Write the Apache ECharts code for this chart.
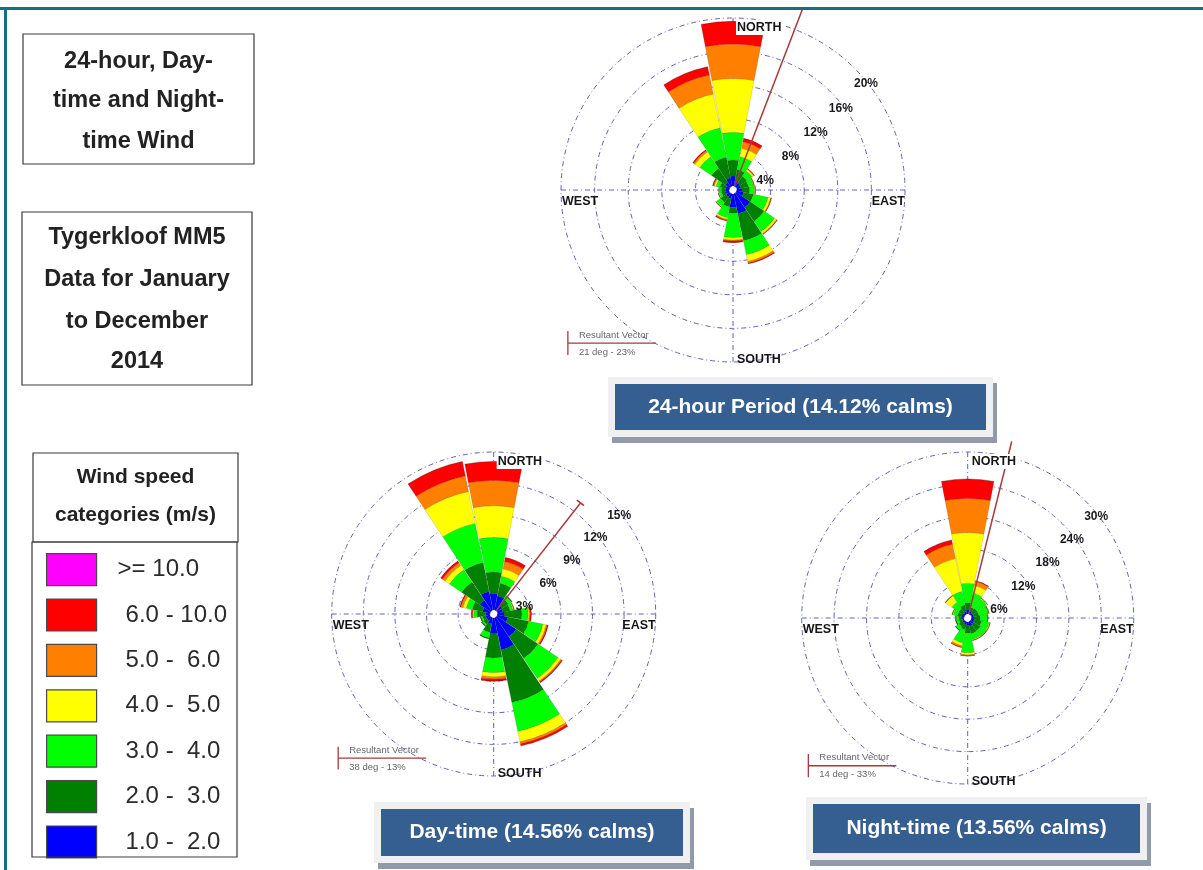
<!DOCTYPE html>
<html>
<head>
<meta charset="utf-8">
<script src="https://cdn.jsdelivr.net/npm/echarts@6/dist/echarts.min.js"></script>
<style>
  html, body { margin: 0; padding: 0; background: #ffffff; }
  #chart { width: 1203px; height: 870px; }
</style>
</head>
<body>
<div id="chart"></div>
<script>
// Wind direction sectors, clockwise from north
const directions = ['N','NNE','NE','ENE','E','ESE','SE','SSE','S','SSW','SW','WSW','W','WNW','NW','NNW'];

// Wind speed classes (m/s), inner to outer
const speedClasses = ['1.0 -  2.0','2.0 -  3.0','3.0 -  4.0','4.0 -  5.0','5.0 -  6.0','6.0 - 10.0','>= 10.0'];
const speedColors  = ['#0000ff','#008000','#00ff00','#ffff00','#ff8000','#ff0000','#ff00ff'];

// 24-hour period: frequency (%) per direction for each speed class
const all1to2  = [1.2,0.6,0.5,0.5,0.6,0.8,2.0,2.4,1.6,0.6,0.5,0.4,0.4,0.4,0.6,1.0];
const all2to3  = [1.9,1.4,1.0,0.9,0.9,1.2,2.0,3.3,0.7,1.0,0.8,0.5,0.5,0.7,2.0,2.5];
const all3to4  = [3.3,1.6,0.8,0.6,0.6,1.8,1.5,1.7,2.9,1.3,0.6,0.3,0.2,0.5,1.7,3.6];
const all4to5  = [6.4,1.0,0.2,0.1,0.1,0.3,0.3,0.8,0.3,0.2,0.1,0.1,0.1,0.2,0.7,4.1];
const all5to6  = [4.1,0.8,0.1,0,0,0.1,0.1,0.2,0.1,0.1,0,0,0,0.1,0.2,2.3];
const all6to10 = [2.7,0.4,0,0,0,0,0,0.1,0.2,0.1,0,0,0,0.1,0.1,1.0];
const all10up  = [0,0,0,0,0,0,0,0,0,0,0,0,0,0,0,0];

// Day-time
const day1to2  = [1.6,1.4,0.6,0.5,0.6,1.0,2.2,3.1,1.5,0.6,0.4,0.4,0.4,0.7,1.2,1.8];
const day2to3  = [2.0,1.2,0.7,0.7,1.7,2.0,2.5,5.1,2.3,0.8,0.4,0.3,0.8,1.0,2.1,2.8];
const day3to4  = [3.3,0.7,0.4,0.3,0.6,1.4,2.3,2.8,1.4,0.6,0.2,0.2,0.3,0.6,1.4,3.8];
const day4to5  = [3.0,0.7,0,0.1,0.1,0.3,0.3,1.0,0.4,0,0,0,0.1,0.3,0.5,3.1];
const day5to6  = [2.4,0.7,0,0,0.1,0.1,0.1,0.2,0.2,0,0,0,0.05,0.2,0.3,1.5];
const day6to10 = [1.8,0.4,0,0,0.1,0.1,0.1,0.2,0.2,0,0,0,0.1,0.1,0.2,1.4];
const day10up  = [0,0,0,0,0,0,0,0,0,0,0,0,0,0,0,0];

// Night-time
const night1to2  = [0.8,0.5,0.4,0.4,0.4,0.5,0.6,0.8,0.6,0.5,0.4,0.3,0.3,0.4,0.4,0.5];
const night2to3  = [1.3,0.8,1.0,1.0,1.2,1.4,1.5,1.4,1.5,1.0,0.8,0.6,0.6,0.8,0.9,1.2];
const night3to4  = [3.6,2.7,2.1,1.8,1.3,1.4,1.3,1.1,3.6,2.5,0.8,0.6,0.5,0.8,1.5,2.6];
const night4to5  = [9.4,1.4,0.2,0.1,0.1,0.2,0.1,0.2,0.4,0.5,0,0,0.1,0.2,1.4,6.2];
const night5to6  = [6.3,0.8,0,0,0,0,0,0,0.2,0.3,0,0,0,0,0.1,2.7];
const night6to10 = [3.6,0.1,0,0,0,0,0,0,0,0.05,0,0,0,0,0,0.8];
const night10up  = [0,0,0,0,0,0,0,0,0,0,0,0,0,0,0,0];

// Ring (percentage) tick labels
const allTicks   = [4, 8, 12, 16, 20];
const dayTicks   = [3, 6, 9, 12, 15];
const nightTicks = [6, 12, 18, 24, 30];

// Resultant vectors: direction (deg) and length (%)
const resultantDir = [21, 38, 14];
const resultantPct = [23, 13, 33];

// Calm percentages for the captions
const calms = [14.12, 14.56, 13.56];
const captionNames = ['24-hour Period', 'Day-time', 'Night-time'];

const FONT = '"Liberation Sans", Arial, Helvetica, sans-serif';
const INNER = 4;

const roses = [
  { center: [733, 190],   radius: 172, ticks: allTicks,
    data: [all1to2, all2to3, all3to4, all4to5, all5to6, all6to10, all10up] },
  { center: [493.7, 614], radius: 162, ticks: dayTicks,
    data: [day1to2, day2to3, day3to4, day4to5, day5to6, day6to10, day10up] },
  { center: [967.7, 618], radius: 166, ticks: nightTicks,
    data: [night1to2, night2to3, night3to4, night4to5, night5to6, night6to10, night10up] }
];

const captions = [
  { x: 608, y: 377, w: 385, h: 60 },
  { x: 374, y: 802, w: 316, h: 61 },
  { x: 806, y: 797, w: 341, h: 63 }
];

const gridStyle = { color: '#6262bc', width: 1, type: [5, 3, 1, 3] };
const hidden = { axisLine: { show: false }, axisTick: { show: false }, axisLabel: { show: false } };

const polar = [], angleAxis = [], radiusAxis = [], series = [], graphic = [];

roses.forEach(function (rose, i) {
  const max = rose.ticks[rose.ticks.length - 1];
  const step = rose.ticks[0];
  const R = rose.radius;
  const barPolar = 3 * i, gridPolar = 3 * i + 1, vecPolar = 3 * i + 2;
  const dir = resultantDir[i], pct = resultantPct[i];
  // the vector may run past the outer ring, so its polar reaches further out on the same scale
  const vecMax = Math.max(max, pct);
  const vecR = INNER + (R - INNER) * vecMax / max;

  polar.push({ center: rose.center, radius: [INNER, R] });
  polar.push({ center: rose.center, radius: [INNER, R] });
  polar.push({ center: rose.center, radius: [INNER, vecR] });

  // sectors
  angleAxis.push(Object.assign({
    polarIndex: barPolar, type: 'category', data: directions,
    startAngle: 90 + 360 / directions.length / 2, clockwise: true,
    splitLine: { show: false }
  }, hidden));
  radiusAxis.push(Object.assign({
    polarIndex: barPolar, type: 'value', min: 0, max: max, interval: step,
    splitLine: { show: true, lineStyle: gridStyle }
  }, hidden));

  // compass cross
  angleAxis.push(Object.assign({
    polarIndex: gridPolar, type: 'value', min: 0, max: 360, interval: 90,
    startAngle: 90, clockwise: true,
    splitLine: { show: true, lineStyle: gridStyle }
  }, hidden));
  radiusAxis.push(Object.assign({
    polarIndex: gridPolar, type: 'value', min: 0, max: max, splitLine: { show: false }
  }, hidden));

  // resultant vector
  angleAxis.push(Object.assign({
    polarIndex: vecPolar, type: 'value', min: 0, max: 360,
    startAngle: 90, clockwise: true, splitLine: { show: false }
  }, hidden));
  radiusAxis.push(Object.assign({
    polarIndex: vecPolar, type: 'value', min: 0, max: vecMax, splitLine: { show: false }
  }, hidden));

  rose.data.forEach(function (values, c) {
    series.push({
      type: 'bar', coordinateSystem: 'polar', polarIndex: barPolar,
      name: speedClasses[c], stack: 'rose' + i, data: values,
      barCategoryGap: '3%',
      itemStyle: { color: speedColors[c], borderColor: 'rgba(0,0,0,0.3)', borderWidth: 0.4 },
      silent: true
    });
  });

  const endItem = pct <= max
    ? { value: [pct, dir], symbol: 'rect', symbolSize: [9, 1.6], symbolRotate: -dir }
    : { value: [pct, dir], symbol: 'none' };
  series.push({
    type: 'line', coordinateSystem: 'polar', polarIndex: vecPolar,
    data: [{ value: [0, dir], symbol: 'none' }, endItem],
    showSymbol: true, silent: true, z: 6,
    lineStyle: { color: '#a83a3a', width: 1.5 },
    itemStyle: { color: '#a83a3a' }
  });

  // compass labels
  const cx = rose.center[0], cy = rose.center[1];
  const compass = { fontSize: 12.5, fontWeight: 'bold', fontFamily: FONT, fill: '#151515' };
  graphic.push({ type: 'text', z: 120, x: cx + 3, y: cy - R + 2,
    style: Object.assign({ text: 'NORTH', align: 'left', verticalAlign: 'top',
      backgroundColor: '#ffffff', padding: [1, 2, 1, 1] }, compass) });
  graphic.push({ type: 'text', z: 120, x: cx + 4, y: cy + R - 2,
    style: Object.assign({ text: 'SOUTH', align: 'left', verticalAlign: 'middle' }, compass) });
  graphic.push({ type: 'text', z: 120, x: cx + R, y: cy + 12,
    style: Object.assign({ text: 'EAST', align: 'right', verticalAlign: 'middle' }, compass) });
  graphic.push({ type: 'text', z: 120, x: cx - R + 1, y: cy + 12,
    style: Object.assign({ text: 'WEST', align: 'left', verticalAlign: 'middle' }, compass) });

  // ring percentage labels
  rose.ticks.forEach(function (v) {
    const r = INNER + (R - INNER) * v / max;
    graphic.push({ type: 'text', z: 120, x: cx + 4 + 0.75 * r, y: cy + 18 - 0.72 * r,
      style: { text: v + '%', align: 'center', verticalAlign: 'middle',
        fontSize: 12, fontWeight: 'bold', fontFamily: FONT, fill: '#1a1a1a' } });
  });

  // resultant vector key
  const kx = cx - 0.96 * R, ky = cy + 0.89 * R;
  graphic.push({ type: 'line', z: 110, shape: { x1: kx, y1: cy + 0.82 * R, x2: kx, y2: cy + 0.96 * R },
    style: { stroke: '#a83a3a', lineWidth: 1.3 } });
  graphic.push({ type: 'line', z: 110, shape: { x1: kx, y1: ky, x2: kx + 88, y2: ky },
    style: { stroke: '#a83a3a', lineWidth: 1.3 } });
  graphic.push({ type: 'text', z: 110, x: kx + 11, y: ky - 8,
    style: { text: 'Resultant Vector', align: 'left', verticalAlign: 'middle',
      fontSize: 9.5, fontFamily: FONT, fill: '#666666' } });
  graphic.push({ type: 'text', z: 110, x: kx + 11, y: ky + 9,
    style: { text: dir + ' deg - ' + pct + '%', align: 'left', verticalAlign: 'middle',
      fontSize: 9.5, fontFamily: FONT, fill: '#666666' } });

  // caption box
  const cap = captions[i];
  graphic.push({ type: 'rect', z: 10, shape: { x: cap.x + 4, y: cap.y + 6, width: cap.w, height: cap.h },
    style: { fill: '#909aaa' } });
  graphic.push({ type: 'rect', z: 11, shape: { x: cap.x, y: cap.y, width: cap.w, height: cap.h },
    style: { fill: '#f0f0f0' } });
  graphic.push({ type: 'rect', z: 12, shape: { x: cap.x + 7, y: cap.y + 7, width: cap.w - 14, height: cap.h - 14 },
    style: { fill: '#365f91' } });
  graphic.push({ type: 'text', z: 13, x: cap.x + cap.w / 2, y: cap.y + cap.h / 2,
    style: { text: captionNames[i] + ' (' + calms[i].toFixed(2) + '% calms)',
      align: 'center', verticalAlign: 'middle',
      fontSize: 21, fontWeight: 'bold', fontFamily: FONT, fill: '#ffffff' } });
});

// page frame (drawn above the plots so the top edge trims the long vector)
graphic.push({ type: 'rect', z: 200, shape: { x: 0, y: 0, width: 1203, height: 7 }, style: { fill: '#ffffff' } });
graphic.push({ type: 'rect', z: 201, shape: { x: 0, y: 7, width: 1203, height: 3 }, style: { fill: '#13707f' } });
graphic.push({ type: 'rect', z: 201, shape: { x: 4, y: 7, width: 3, height: 863 }, style: { fill: '#13707f' } });

// side text boxes
function textBox(x, y, w, h, lines, lineY, size) {
  graphic.push({ type: 'rect', z: 5, shape: { x: x, y: y, width: w, height: h },
    style: { fill: '#ffffff', stroke: '#3a3a3a', lineWidth: 1.2 } });
  lines.forEach(function (t, k) {
    graphic.push({ type: 'text', z: 6, x: x + w / 2, y: lineY[k],
      style: { text: t, align: 'center', verticalAlign: 'middle',
        fontSize: size, fontWeight: 'bold', fontFamily: FONT, fill: '#222222' } });
  });
}
textBox(23, 34, 231, 130, ['24-hour, Day-', 'time and Night-', 'time Wind'], [62, 101, 142], 23.5);
textBox(22, 212, 230, 173, ['Tygerkloof MM5', 'Data for January', 'to December', '2014'], [238, 280, 322, 362], 23.5);
textBox(33, 453, 205, 89, ['Wind speed', 'categories (m/s)'], [477, 515], 21);
graphic.push({ type: 'rect', z: 5, shape: { x: 32, y: 542, width: 205, height: 315 },
  style: { fill: 'none', stroke: '#3a3a3a', lineWidth: 1.2 } });

const legendOrder = speedClasses.slice().reverse();

const chart = echarts.init(document.getElementById('chart'), null, { renderer: 'canvas' });
chart.setOption({
  backgroundColor: '#ffffff',
  animation: false,
  polar: polar,
  angleAxis: angleAxis,
  radiusAxis: radiusAxis,
  legend: {
    orient: 'vertical', left: 41, top: 548,
    itemWidth: 50, itemHeight: 32, itemGap: 12.2,
    icon: 'rect', selectedMode: false,
    itemStyle: { borderColor: '#4a4a4a', borderWidth: 1.2 },
    data: legendOrder.map(function (name) {
      return { name: name, textStyle: { fontSize: 24, color: '#2b2b2b', fontFamily: FONT,
        padding: [0, 0, 0, name.indexOf('>=') === 0 ? 16 : 24] } };
    })
  },
  graphic: { elements: graphic },
  series: series
});
</script>
</body>
</html>
